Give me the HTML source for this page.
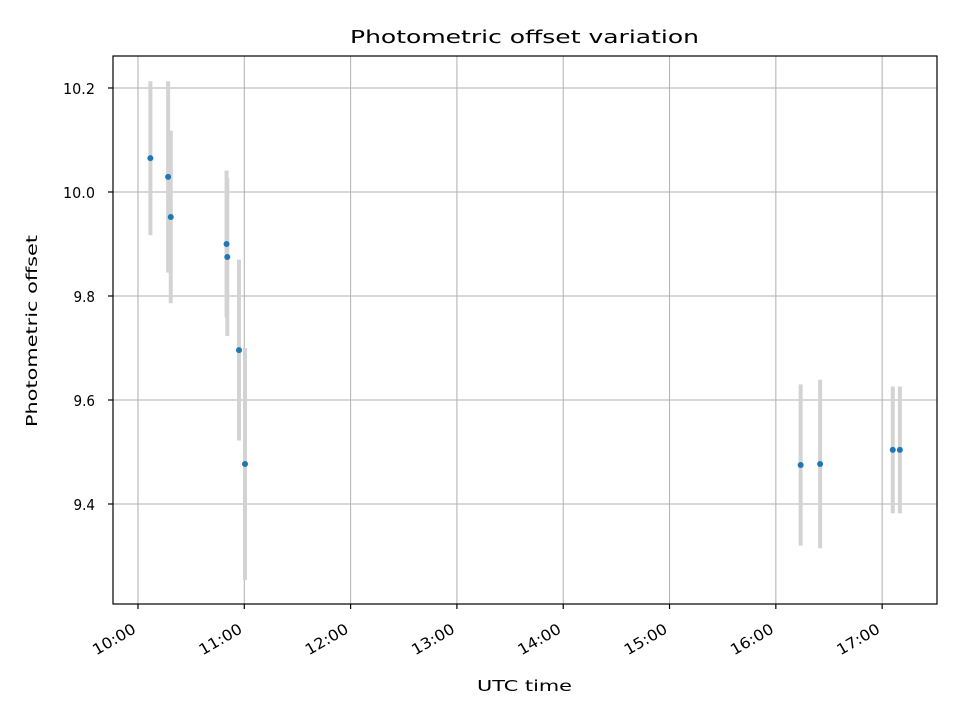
<!DOCTYPE html>
<html><head><meta charset="utf-8"><style>
body{margin:0;background:#fff;font-family:"DejaVu Sans","Liberation Sans",sans-serif}
</style></head><body>
<svg id="chart" width="960" height="720" font-family="DejaVu Sans, Liberation Sans, sans-serif">
<rect width="960" height="720" fill="#fff"/>
<text x="524.5" y="43" font-size="18" text-anchor="middle" textLength="349" lengthAdjust="spacingAndGlyphs">Photometric offset variation</text>
<text x="524.5" y="691" font-size="15" text-anchor="middle" textLength="95" lengthAdjust="spacingAndGlyphs">UTC time</text>
<text transform="translate(37,331) rotate(-90)" font-size="15" text-anchor="middle" textLength="192" lengthAdjust="spacingAndGlyphs">Photometric offset</text>
<g id="grid"></g><g id="errs"></g><g id="pts"></g><g id="ticks"></g>
<rect x="113" y="56" width="824" height="548" fill="none" stroke="#000" stroke-width="1.2"/>
</svg>
<script>
const times=["10:07","10:17","10:18.5","10:50","10:50.4","10:57","11:00.4","16:14","16:25","17:06","17:10"];
const offsets=[10.065,10.029,9.952,9.900,9.875,9.696,9.477,9.475,9.477,9.504,9.504];
const errors=[0.148,0.184,0.166,0.141,0.152,0.174,0.223,0.155,0.162,0.122,0.122];
const xTickLabels=["10:00","11:00","12:00","13:00","14:00","15:00","16:00","17:00"];
const yTickLabels=["9.4","9.6","9.8","10.0","10.2"];
const NS="http://www.w3.org/2000/svg";
const L=113,R=937,T=56,B=604,X0=9.765,X1=17.516,Y0=9.2077,Y1=10.2615;
function hrs(s){const p=s.split(":");return +p[0]+parseFloat(p[1])/60;}
function xs(h){return L+(h-X0)/(X1-X0)*(R-L);}
function ys(v){return B-(v-Y0)/(Y1-Y0)*(B-T);}
function mk(tag,a,parent){const e=document.createElementNS(NS,tag);for(const k in a)e.setAttribute(k,a[k]);document.getElementById(parent).appendChild(e);return e;}
xTickLabels.forEach(t=>{const x=xs(hrs(t));
 let g=mk("line",{x1:x,x2:x,y1:T,y2:B,stroke:"#b0b0b0","stroke-width":1},"grid");
 
 
 mk("line",{x1:x,x2:x,y1:B,y2:B+5,stroke:"#000","stroke-width":1.2},"ticks");
 let tx=mk("text",{x:0,y:0,"font-size":15,"text-anchor":"end",textLength:47,lengthAdjust:"spacingAndGlyphs",transform:`translate(${x-1},${B+28}) rotate(-30)`},"ticks");
 tx.textContent=t;
 
 
});
yTickLabels.forEach(t=>{const y=ys(parseFloat(t));
 let g=mk("line",{x1:L,x2:R,y1:y,y2:y,stroke:"#b0b0b0","stroke-width":1},"grid");
 
 
 mk("line",{x1:L-5,x2:L,y1:y,y2:y,stroke:"#000","stroke-width":1.2},"ticks");
 let tx=mk("text",{x:L-18,y:y+6,"font-size":15,"text-anchor":"end",textLength:t.length*10.5-10,lengthAdjust:"spacingAndGlyphs"},"ticks");
 tx.textContent=t;
 
 
});
times.forEach((t,i)=>{const x=xs(hrs(t));
 let e=mk("line",{x1:x,x2:x,y1:ys(offsets[i]+errors[i]),y2:ys(offsets[i]-errors[i]),stroke:"#d3d3d3","stroke-width":4},"errs");
 
 
 let c=mk("circle",{cx:x,cy:ys(offsets[i]),r:3,fill:"#1f77b4"},"pts");
 
 
});
</script>
</body></html>
